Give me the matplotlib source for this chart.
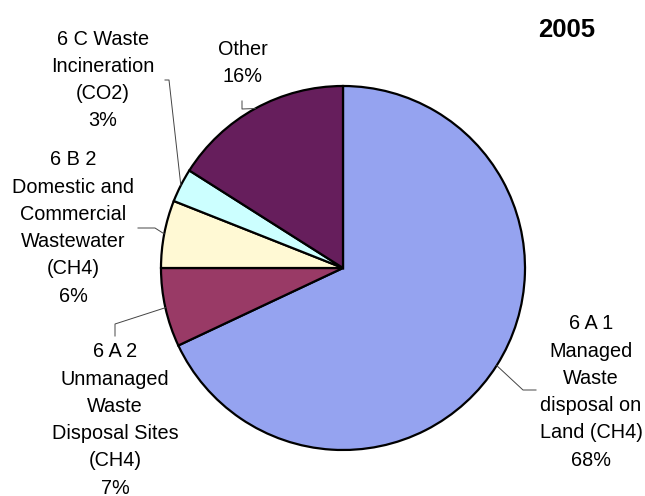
import numpy as np
import matplotlib.pyplot as plt

plt.rcParams['font.family'] = ['Liberation Sans', 'DejaVu Sans']

# data
categories = ["6 A 1\nManaged\nWaste\ndisposal on\nLand (CH4)",
              "6 A 2\nUnmanaged\nWaste\nDisposal Sites\n(CH4)",
              "6 B 2\nDomestic and\nCommercial\nWastewater\n(CH4)",
              "6 C Waste\nIncineration\n(CO2)",
              "Other"]
shares = [68, 7, 6, 3, 16]
colors = ['#95A3F0', '#993A66', '#FFF9D4', '#CCFFFF', '#661E5C']
title = "2005"

W, H = 645, 496
def py(y):
    # pixel row (from top) -> data y
    return H - y

fig = plt.figure(figsize=(W / 100, H / 100), dpi=100)
ax = fig.add_axes([0, 0, 1, 1])

cx, cy, r = 343, py(268), 182
wedges, _ = ax.pie(shares, colors=colors, startangle=90, counterclock=False,
                   center=(cx, cy), radius=r,
                   wedgeprops=dict(edgecolor='black', linewidth=1.6))
ax.set_xlim(0, W)
ax.set_ylim(0, H)
ax.set_aspect('equal')
ax.axis('off')

# label centres and leader elbows (pixel coords from top)
label_pos = [(591, 392), (115, 420), (73, 228), (103, 80), (243, 63)]
elbows = [[(523, 390), (536, 390)],
          [(115, 324), (115, 336)],
          [(155, 228), (138, 228)],
          [(169, 80), (165, 80)],
          [(242, 109), (242, 101)]]

for w, lab, s, (lx, ly), elb in zip(wedges, categories, shares, label_pos, elbows):
    ang = np.deg2rad((w.theta1 + w.theta2) / 2)
    ex, ey = cx + r * np.cos(ang), cy + r * np.sin(ang)
    xs = [ex] + [p[0] for p in elb]
    ys = [ey] + [py(p[1]) for p in elb]
    ax.plot(xs, ys, color='#444444', lw=0.7)
    ax.text(lx, py(ly), f"{lab}\n{s}%", ha='center', va='center',
            fontsize=14.3, linespacing=1.55)

ax.text(567, py(30), title, ha='center', va='center', fontsize=18.5,
        fontweight='bold')

fig.savefig('out.png', dpi=100, facecolor='white')
